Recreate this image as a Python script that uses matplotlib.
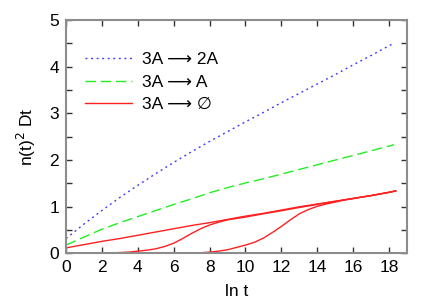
import matplotlib
matplotlib.use("Agg")
import matplotlib.pyplot as plt

# --- data ---
x_blue = [0, 1, 2, 3, 4, 5, 6, 7, 8, 9, 10, 11, 12, 13, 14, 15, 16, 17, 18, 18.22]
y_blue = [0.32, 0.63, 0.92, 1.20, 1.46, 1.71, 1.95, 2.18, 2.40, 2.61, 2.82, 3.02, 3.23,
          3.43, 3.63, 3.83, 4.04, 4.24, 4.45, 4.49]

x_green = [0, 1, 2, 3, 4, 5, 6, 7, 8, 9, 10, 11, 12, 13, 14, 15, 16, 17, 18, 18.28]
y_green = [0.18, 0.35, 0.52, 0.66, 0.79, 0.92, 1.05, 1.17, 1.30, 1.41, 1.51, 1.60, 1.70,
           1.80, 1.90, 2.00, 2.10, 2.20, 2.30, 2.33]

x_red1 = [0, 1, 2, 3, 4, 5, 6, 7, 8, 9, 10, 11, 12, 13, 14, 15, 16, 17, 18, 18.37]
y_red1 = [0.12, 0.19, 0.26, 0.32, 0.39, 0.46, 0.53, 0.60, 0.66, 0.73, 0.80, 0.86, 0.93,
          1.00, 1.06, 1.12, 1.18, 1.24, 1.31, 1.34]

x_red2 = [0, 1, 2, 2.5, 3, 3.5, 4, 4.5, 5, 5.5, 6, 6.5, 7, 7.5, 8, 8.5, 9, 9.5, 10, 11,
          12, 13, 14, 15, 16, 17, 18, 18.37]
y_red2 = [0.0, 0.002, 0.006, 0.012, 0.02, 0.03, 0.05, 0.07, 0.10, 0.15, 0.22, 0.32, 0.43,
          0.53, 0.61, 0.67, 0.72, 0.75, 0.78, 0.85, 0.915, 0.985, 1.05, 1.115, 1.178,
          1.24, 1.31, 1.34]

x_red3 = [0, 2, 4, 6, 7, 7.5, 8, 8.5, 9, 9.5, 10, 10.5, 11, 11.5, 12, 12.5, 13, 13.5, 14,
          14.5, 15, 15.5, 16, 16.5, 17, 18, 18.37]
y_red3 = [0.0, 0.0, 0.001, 0.004, 0.01, 0.015, 0.03, 0.05, 0.08, 0.13, 0.18, 0.24, 0.33,
          0.45, 0.58, 0.72, 0.85, 0.94, 1.01, 1.06, 1.10, 1.145, 1.175, 1.21, 1.24,
          1.31, 1.34]

labels = ["3A \u27f6 2A", "3A \u27f6 A", "3A \u27f6 \u2205"]
x_ticks = [0, 2, 4, 6, 8, 10, 12, 14, 16, 18]
y_ticks = [0, 1, 2, 3, 4, 5]

plt.rcParams['font.family'] = ['Liberation Sans', 'DejaVu Sans']

fig = plt.figure(figsize=(4.36, 3.05), dpi=100)
ax = fig.add_axes([0.1514, 0.1689, 0.7821, 0.7655])

ax.plot(x_blue, y_blue, color='#3a3aff', lw=1.0, linestyle=(0, (1.4, 2.6)), label=labels[0])
ax.plot(x_green, y_green, color='#22ee22', lw=1.0, linestyle=(0, (7.5, 3.5)), label=labels[1])
ax.plot(x_red1, y_red1, color='#ff2020', lw=1.0, label=labels[2])
ax.plot(x_red2, y_red2, color='#ff2020', lw=1.0)
ax.plot(x_red3, y_red3, color='#ff2020', lw=1.0)

ax.set_xlim(0, 19)
ax.set_ylim(0, 5)
ax.set_xticks(x_ticks)
ax.set_yticks(y_ticks)
ax.set_yticks([0.5, 1.5, 2.5, 3.5, 4.5], minor=True)
ax.tick_params(which='both', direction='in', top=True, right=True, labelsize=12.5,
               length=4, width=1, color='#333333', pad=5)

for s in ax.spines.values():
    s.set_color('#8c8c8c')
    s.set_linewidth(1.5)

ax.set_xlabel("ln t", fontsize=12.5, labelpad=6)
ax.set_ylabel("n(t)$^2$ Dt", fontsize=12.5, labelpad=8)

leg = ax.legend(loc='upper left', frameon=False, fontsize=12.5, handlelength=2.7,
                handletextpad=0.6, labelspacing=0.42, bbox_to_anchor=(0.02, 0.915),
                borderaxespad=0.3)

fig.savefig("out.png", dpi=100)
